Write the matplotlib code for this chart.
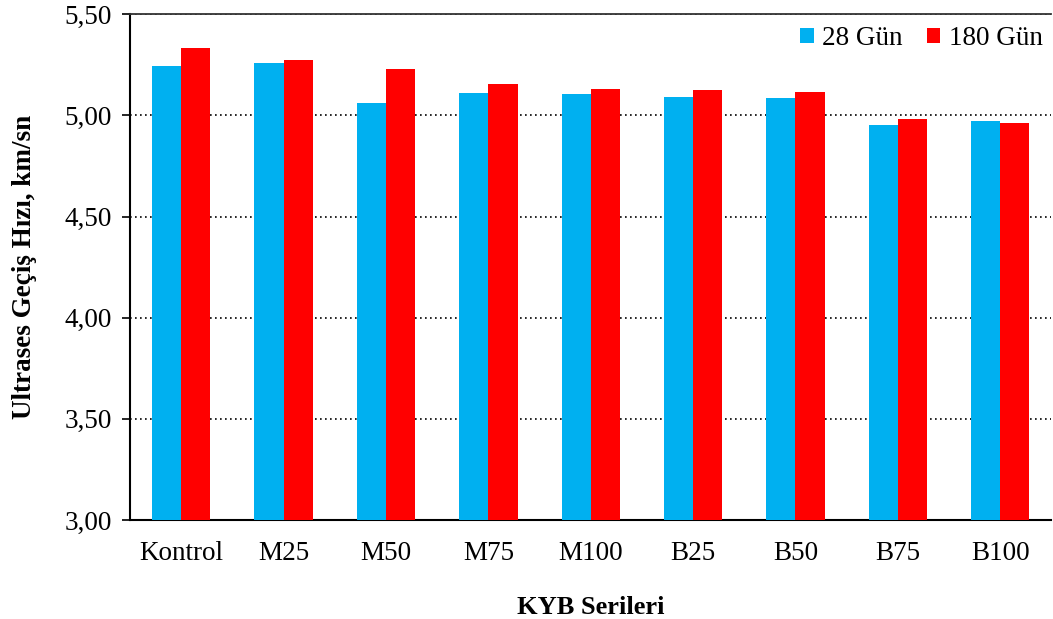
import matplotlib.pyplot as plt
import numpy as np

plt.rcParams['font.family'] = ['Liberation Serif', 'DejaVu Serif']

series_names = ["Kontrol", "M25", "M50", "M75", "M100", "B25", "B50", "B75", "B100"]
gun28 = [5.245, 5.260, 5.062, 5.110, 5.104, 5.093, 5.087, 4.953, 4.972]
gun180 = [5.333, 5.275, 5.230, 5.157, 5.131, 5.126, 5.116, 4.983, 4.963]

fig = plt.figure(figsize=(10.53, 6.19), dpi=100)
ax = fig.add_axes([0.1235, 0.16, 0.875, 0.817])

x = np.arange(len(series_names))
w = 0.285
ax.bar(x - w / 2, gun28, w, bottom=0, color="#00B0F0", label="28 Gün", zorder=3)
ax.bar(x + w / 2, gun180, w, bottom=0, color="#FF0000", label="180 Gün", zorder=3)

ax.set_ylim(3.0, 5.5)
ax.set_xlim(-0.5, len(series_names) - 0.5)
ax.set_yticks(np.arange(3.0, 5.51, 0.5))
ax.set_yticklabels([f"{v:.2f}".replace(".", ",") for v in np.arange(3.0, 5.51, 0.5)])
ax.set_xticks(x)
ax.set_xticklabels(series_names)
ax.tick_params(axis="x", length=0, pad=15, labelsize=19.5)
ax.tick_params(axis="y", length=6, width=1.2, direction="out", pad=7, labelsize=19.5)

ax.yaxis.grid(True, linestyle=(0, (1, 2)), color="black", linewidth=1.2, zorder=0)
ax.set_axisbelow(True)
ax.spines["right"].set_visible(False)
ax.spines["top"].set_color("#333333")
ax.spines["top"].set_linewidth(1.3)
ax.spines["left"].set_linewidth(1.5)
ax.spines["bottom"].set_linewidth(1.5)

ax.set_ylabel("Ultrases Geçiş Hızı, km/sn", fontsize=19.5, fontweight="bold", labelpad=20)
ax.set_xlabel("KYB Serileri", fontsize=19, fontweight="bold", labelpad=22)

ax.legend(loc="upper right", ncol=2, frameon=False, fontsize=19.5,
          handlelength=0.5, handleheight=0.5, handletextpad=0.3,
          columnspacing=0.9, borderaxespad=0.1, bbox_to_anchor=(1.005, 1.003))

fig.savefig("out.png", dpi=100)
